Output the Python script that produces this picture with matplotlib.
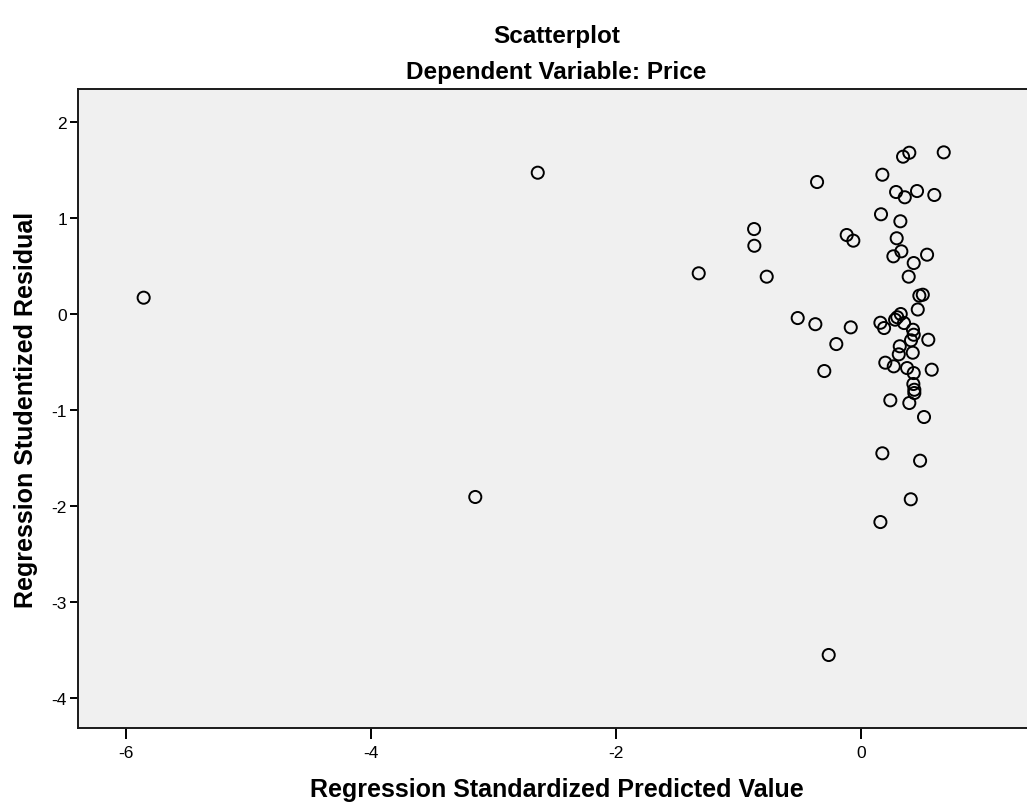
import matplotlib.pyplot as plt

plt.rcParams['font.family'] = ['Liberation Sans', 'DejaVu Sans']

# Regression standardized predicted value (x) and studentized residual (y)
pred_values = [
    -5.856, -2.639, -3.149, -0.264, -1.325, -0.873, -0.871, -0.770, -0.359,
    0.343, 0.394, 0.675, 0.174, 0.286, 0.357, 0.457, 0.598, 0.163, 0.321,
    -0.117, -0.063, 0.291, 0.329, 0.264, 0.539, 0.430, 0.389, 0.476, 0.504,
    0.463, -0.517, -0.373, -0.084, -0.202, -0.300, 0.158, 0.188, 0.278,
    0.296, 0.324, 0.351, 0.424, 0.430, 0.408, 0.549, 0.316, 0.308, 0.422,
    0.198, 0.267, 0.376, 0.430, 0.577, 0.427, 0.435, 0.435, 0.239, 0.394,
    0.514, 0.174, 0.482, 0.406, 0.158,
]
stud_resid = [
    0.170, 1.472, -1.906, -3.552, 0.424, 0.885, 0.711, 0.389, 1.375,
    1.639, 1.680, 1.684, 1.451, 1.271, 1.216, 1.281, 1.240, 1.039, 0.966,
    0.823, 0.764, 0.789, 0.653, 0.601, 0.618, 0.531, 0.389, 0.191, 0.201,
    0.047, -0.042, -0.106, -0.139, -0.313, -0.594, -0.091, -0.146, -0.059,
    -0.034, 0.000, -0.094, -0.164, -0.216, -0.274, -0.268, -0.336, -0.420,
    -0.403, -0.507, -0.545, -0.563, -0.615, -0.580, -0.729, -0.789, -0.823,
    -0.899, -0.927, -1.073, -1.451, -1.528, -1.930, -2.167,
]
x_ticks = [-6, -4, -2, 0]
y_ticks = [2, 1, 0, -1, -2, -3, -4]

W, H = 1027, 812
fig = plt.figure(figsize=(W / 100, H / 100), dpi=100)

# axes box in pixels: left 78, right ~1035 (runs off the image), top 90, bottom 729
left, right, top, bottom = 78, 1035, 90, 729
ax = fig.add_axes([left / W, 1 - bottom / H, (right - left) / W, (bottom - top) / H])
ax.set_facecolor('#f0f0f0')

ax.scatter(pred_values, stud_resid, s=76, facecolors='none',
           edgecolors='black', linewidths=1.4, zorder=3)

ax.set_xlim(-6.392, 1.420)
ax.set_ylim(-4.3125, 2.344)
ax.set_xticks(x_ticks)
ax.set_yticks(y_ticks)
ax.set_xticklabels([str(v) for v in x_ticks])
ax.set_yticklabels([str(v) for v in y_ticks])

for side in ['left', 'bottom', 'top', 'right']:
    ax.spines[side].set_linewidth(1.4)
    ax.spines[side].set_color('#1a1a1a')

ax.tick_params(axis='x', direction='out', length=8, width=1.4, labelsize=12.5, pad=4)
ax.tick_params(axis='y', direction='out', length=6, width=1.4, labelsize=12.5, pad=2)

# titles and axis labels, centred on the plot box
cx = (left + right) / 2 / W
fig.text(cx, 1 - 37 / H, 'Scatterplot', ha='center', va='center',
         fontsize=17.5, fontweight='bold')
fig.text(cx, 1 - 73 / H, 'Dependent Variable: Price', ha='center', va='center',
         fontsize=17.5, fontweight='bold')
fig.text(cx, 1 - 790 / H, 'Regression Standardized Predicted Value',
         ha='center', va='center', fontsize=18, fontweight='bold')
fig.text(26 / W, 1 - 410 / H, 'Regression Studentized Residual', ha='center',
         va='center', rotation=90, fontsize=18, fontweight='bold')

plt.savefig('out.png', dpi=100)
plt.close()
